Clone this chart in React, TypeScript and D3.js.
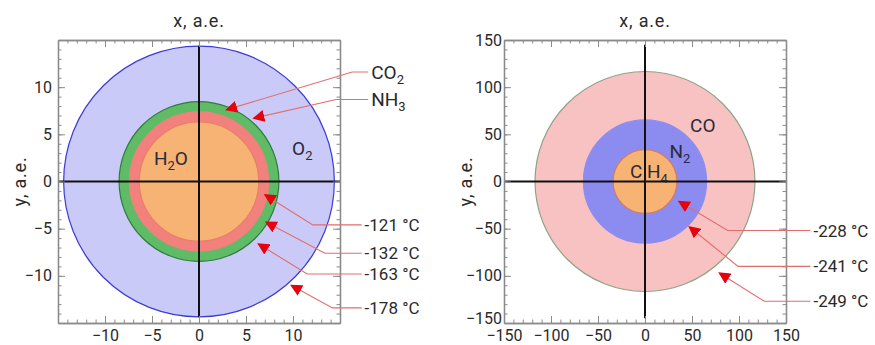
import React, { useEffect, useRef } from 'react';
import * as d3 from 'd3';

// ring radii (a.e.), outer to inner
const leftRadii = [14.4, 8.5, 7.4, 6.35];
const rightRadii = [117, 65.5, 34];

// labelled tick values
const leftTicks = [-10, -5, 0, 5, 10];
const rightTicks = [-150, -100, -50, 0, 50, 100, 150];

// phase names inside the rings
const leftNames = [
  { x: -4.8, y: 1.8, main: 'H', sub: '2', tail: 'O' },
  { x: 9.9, y: 2.8, main: 'O', sub: '2', tail: '' },
];
const rightNames = [
  { x: 48, y: 52, main: 'CO', sub: '', tail: '' },
  { x: 26, y: 25, main: 'N', sub: '2', tail: '' },
  { x: -16, y: 3.5, main: 'C H', sub: '4', tail: '' },
];

// callouts: arrow tip, elbow, end of horizontal leg (data units)
const leftCallouts = [
  { label: 'CO', sub: '2', tip: [2.9, 7.6], elbow: [16.3, 11.6], end: 18.0 },
  { label: 'NH', sub: '3', tip: [5.8, 6.7], elbow: [14.6, 8.7], end: 18.0 },
  { label: '-121 °C', sub: '', tip: [7.0, -1.4], elbow: [12.1, -4.6], end: 17.3 },
  { label: '-132 °C', sub: '', tip: [7.1, -4.3], elbow: [13.4, -7.6], end: 17.3 },
  { label: '-163 °C', sub: '', tip: [6.3, -6.6], elbow: [11.5, -9.8], end: 17.3 },
  { label: '-178 °C', sub: '', tip: [9.8, -11.0], elbow: [14.2, -13.4], end: 17.3 },
];
const rightCallouts = [
  { label: '-228 °C', sub: '', tip: [36, -21], elbow: [88, -52], end: 176 },
  { label: '-241 °C', sub: '', tip: [47, -48], elbow: [99, -90], end: 176 },
  { label: '-249 °C', sub: '', tip: [79, -97], elbow: [127, -127], end: 176 },
];

const leftStyle = [
  { fill: '#c9caf7', stroke: '#3b3bd6' },
  { fill: '#5fbb66', stroke: '#2f7d3c' },
  { fill: '#f2807d', stroke: '#f2807d' },
  { fill: '#f6b374', stroke: '#ea7f6a' },
];
const rightStyle = [
  { fill: '#f8c2c2', stroke: '#8fa486' },
  { fill: '#8c8cf0', stroke: '#8c8cf0' },
  { fill: '#f6b374', stroke: '#d47a62' },
];

const FONT = 'Roboto, sans-serif';

function drawPanel(svg, opts) {
  const { x0, domain, radii, styles, names, callouts, labelVals, minor, vExt, padY } = opts;
  const x = d3.scaleLinear().domain([-domain, domain]).range([x0, x0 + 282]);
  const y = d3.scaleLinear().domain([-domain, domain]).range([323, 40]);
  const g = svg.append('g');

  g.selectAll('circle.ring')
    .data(radii)
    .join('circle')
    .attr('class', 'ring')
    .attr('cx', x(0))
    .attr('cy', y(0))
    .attr('r', (d) => x(d) - x(0))
    .attr('fill', (d, i) => styles[i].fill)
    .attr('stroke', (d, i) => styles[i].stroke)
    .attr('stroke-width', 1.2);

  // axes cross
  g.append('line')
    .attr('x1', x(-domain)).attr('x2', x(domain))
    .attr('y1', y(0)).attr('y2', y(0))
    .attr('stroke', '#111').attr('stroke-width', 2);
  g.append('line')
    .attr('x1', x(0)).attr('x2', x(0))
    .attr('y1', y(vExt)).attr('y2', y(-vExt))
    .attr('stroke', '#111').attr('stroke-width', 2);

  // frame + ticks
  const minorVals = d3.range(-domain + minor, domain - minor / 2, minor);
  const mk = (axis, scale, vals, size, labels, pad) =>
    axis(scale).tickValues(vals).tickSizeInner(-size).tickSizeOuter(0)
      .tickPadding(pad).tickFormat(labels ? d3.format('d') : () => '');

  const sides = [
    [d3.axisBottom, x, `translate(0,${y(-domain)})`, true, 7, 'b'],
    [d3.axisTop, x, `translate(0,${y(domain)})`, false, 3, 't'],
    [d3.axisLeft, y, `translate(${x(-domain)},0)`, true, padY, 'l'],
    [d3.axisRight, y, `translate(${x(domain)},0)`, false, 3, 'r'],
  ];
  sides.forEach(([axis, scale, tr, labels, pad, side]) => {
    const a = g.append('g').attr('transform', tr);
    a.append('g').call(mk(axis, scale, minorVals, 3.5, false, pad));
    const m = a.append('g').call(mk(axis, scale, labelVals, 7, labels, pad));
    a.selectAll('path.domain').attr('stroke', '#8a8a8a').attr('stroke-width', 1.3);
    a.selectAll('line').attr('stroke', '#8a8a8a').attr('stroke-width', 1);
    m.selectAll('text').attr('font-family', FONT).attr('font-size', 16).attr('fill', '#2a2a2a');
    // lowest y label sits a little above the corner, clear of the x labels
    if (side === 'l') m.selectAll('g.tick').filter((d) => d === -domain).select('text').attr('dy', '0.05em');
    a.selectAll('g.tick').filter((d) => Math.abs(d) > domain - 1e-9).select('line').remove();
  });

  // titles
  g.append('text')
    .attr('x', x(0)).attr('y', 27)
    .attr('text-anchor', 'middle')
    .attr('font-family', FONT).attr('font-size', 18).attr('letter-spacing', 0.8).attr('fill', '#2a2a2a')
    .text('x, a.e.');
  g.append('text')
    .attr('transform', `translate(${x0 - 32},${y(0)}) rotate(-90)`)
    .attr('text-anchor', 'middle')
    .attr('font-family', FONT).attr('font-size', 18).attr('letter-spacing', 0.8).attr('fill', '#2a2a2a')
    .text('y, a.e.');

  // names inside the rings
  names.forEach((n) => {
    const t = g.append('text')
      .attr('x', x(n.x)).attr('y', y(n.y))
      .attr('font-family', FONT).attr('font-size', 19).attr('fill', '#2a2a3a');
    t.append('tspan').text(n.main);
    if (n.sub) t.append('tspan').attr('dy', 5).attr('font-size', 13).text(n.sub);
    if (n.tail) t.append('tspan').attr('dy', -5).text(n.tail);
  });

  // callouts
  const lineGen = d3.line().x((d) => x(d[0])).y((d) => y(d[1]));
  callouts.forEach((c) => {
    g.append('path')
      .attr('d', lineGen([[c.end, c.elbow[1]], c.elbow, c.tip]))
      .attr('fill', 'none')
      .attr('stroke', '#e46c6c')
      .attr('stroke-width', 1.1)
      .attr('marker-end', 'url(#arrowhead)');
    const t = g.append('text')
      .attr('x', x(c.end) + 3).attr('y', y(c.elbow[1]) + (c.sub ? 7 : 6))
      .attr('font-family', FONT).attr('font-size', c.sub ? 19 : 17).attr('fill', '#2a2a2a');
    t.append('tspan').text(c.label);
    if (c.sub) t.append('tspan').attr('dy', 5).attr('font-size', 13).text(c.sub);
  });
}

const App = () => {
  const ref = useRef(null);

  useEffect(() => {
    const svg = d3.select(ref.current);
    svg.selectAll('*').remove();
    svg.append('defs').append('marker')
      .attr('id', 'arrowhead')
      .attr('viewBox', '0 0 10 10')
      .attr('refX', 9).attr('refY', 5)
      .attr('markerWidth', 12).attr('markerHeight', 12)
      .attr('markerUnits', 'userSpaceOnUse')
      .attr('orient', 'auto')
      .append('path')
      .attr('d', 'M0,0 L10,5 L0,10 Z')
      .attr('fill', '#e8000f');

    drawPanel(svg, {
      x0: 58, domain: 15, radii: leftRadii, styles: leftStyle, names: leftNames,
      callouts: leftCallouts, labelVals: leftTicks, minor: 1, vExt: 14.4, padY: 6,
    });
    drawPanel(svg, {
      x0: 504, domain: 150, radii: rightRadii, styles: rightStyle, names: rightNames,
      callouts: rightCallouts, labelVals: rightTicks, minor: 10, vExt: 145, padY: 2,
    });
  }, []);

  return (
    <svg
      ref={ref}
      width={875}
      height={345}
      style={{ position: 'absolute', left: 0, top: 0, background: '#fff' }}
    />
  );
};

export default App;
